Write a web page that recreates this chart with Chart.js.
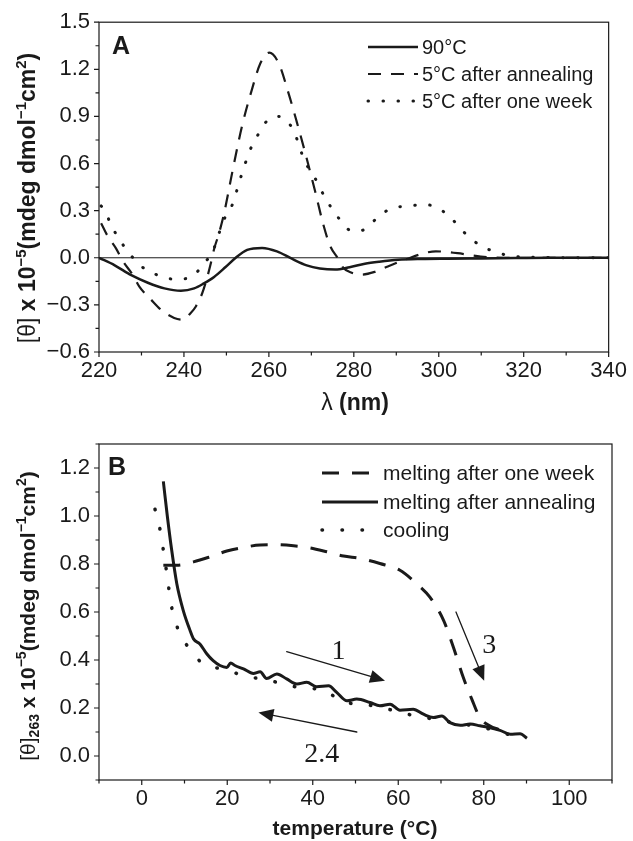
<!DOCTYPE html>
<html>
<head>
<meta charset="utf-8">
<script src="https://cdn.jsdelivr.net/npm/chart.js@4.4.0/dist/chart.umd.min.js"></script>
<style>
body { margin: 0; background: #fff; }
canvas { display: block; }
</style>
</head>
<body>
<canvas id="chartA" width="633" height="420"></canvas>
<canvas id="chartB" width="633" height="421"></canvas>
<script>
// ---- panel A : CD spectra ----
var nm90 = [220, 223.7, 227.6, 231.5, 235.4, 239.3, 242.4, 244.7, 247.1, 249.8, 252.2, 254.9, 258.4, 261.9, 265.4, 268.9, 272, 275.6, 279, 282.6, 286, 290.4, 296, 302, 310, 318, 326, 340];
var theta90 = [0, -0.048, -0.111, -0.159, -0.195, -0.21, -0.195, -0.163, -0.122, -0.059, 0, 0.05, 0.063, 0.041, -0.006, -0.048, -0.068, -0.075, -0.06, -0.038, -0.025, -0.013, -0.008, -0.006, -0.004, -0.002, 0, 0];

var nmAnneal = [220.5, 222, 224, 225.6, 228, 229.5, 232.3, 234.6, 237.7, 239.7, 241.6, 242.8, 244.3, 245.5, 246.3, 247.1, 248.2, 249.4, 251.4, 253.7, 256, 258, 260.1, 262.3, 264.6, 266.6, 268.5, 270.9, 272.8, 274.4, 276.3, 277.5, 279.5, 281.8, 284.9, 288, 292.7, 296, 299.3, 304.4, 309.9, 315.3, 340];
var thetaAnneal = [0.22, 0.14, 0.06, -0.02, -0.111, -0.184, -0.268, -0.331, -0.383, -0.394, -0.352, -0.31, -0.226, -0.122, -0.038, 0.056, 0.151, 0.276, 0.548, 0.841, 1.071, 1.239, 1.306, 1.239, 1.05, 0.862, 0.674, 0.422, 0.213, 0.077, -0.006, -0.063, -0.095, -0.107, -0.09, -0.055, -0.006, 0.025, 0.041, 0.029, 0.008, 0, 0];

var nmWeek = [220.5, 221.3, 222.7, 224.6, 226.8, 229.9, 233.3, 236.8, 238.5, 240.1, 241.8, 244.7, 246.9, 249.3, 251.4, 253.3, 255.7, 257.4, 259.6, 262.2, 263.5, 265.8, 268.5, 270.5, 272, 274, 276.3, 279.2, 281, 282.6, 285.7, 289.2, 292.7, 296.2, 299.3, 302.8, 306, 309.5, 313, 316.5, 320, 340];
var thetaWeek = [0.33, 0.308, 0.217, 0.126, 0.04, -0.053, -0.105, -0.134, -0.138, -0.134, -0.122, -0.038, 0.05, 0.236, 0.339, 0.506, 0.694, 0.782, 0.873, 0.9, 0.89, 0.81, 0.611, 0.527, 0.445, 0.349, 0.257, 0.174, 0.17, 0.182, 0.259, 0.318, 0.328, 0.339, 0.324, 0.255, 0.161, 0.083, 0.04, 0.014, 0.004, 0];

var xTicksA = [220, 240, 260, 280, 300, 320, 340];
var xMinorA = [230, 250, 270, 290, 310, 330];
var yTicksA = [-0.6, -0.3, 0, 0.3, 0.6, 0.9, 1.2, 1.5];
var yMinorA = [-0.45, -0.15, 0.15, 0.45, 0.75, 1.05, 1.35];
var legendA = ['90°C', '5°C after annealing', '5°C after one week'];

// ---- panel B : melting / cooling ----
var tempAnneal = [5.05, 6.0, 7.0, 8.2, 9.7, 11.3, 12.1, 13.6, 15.2, 16.7, 18.3, 19.9, 20.8, 21.8, 23.8, 26.1, 27.7, 29.2, 31.6, 33.9, 36.3, 38.6, 40.9, 43.7, 45.6, 48.0, 50.3, 53.4, 55.7, 58.1, 60.4, 63.5, 65.9, 68.2, 70.2, 72.1, 74.5, 76.8, 79.1, 81.5, 83.8, 86.2, 88.5, 90.1];
var meltAnneal = [1.144, 0.997, 0.858, 0.718, 0.607, 0.523, 0.488, 0.467, 0.426, 0.397, 0.377, 0.369, 0.388, 0.377, 0.363, 0.344, 0.351, 0.323, 0.342, 0.321, 0.30, 0.307, 0.289, 0.293, 0.265, 0.23, 0.237, 0.223, 0.209, 0.216, 0.191, 0.195, 0.174, 0.16, 0.167, 0.139, 0.128, 0.133, 0.126, 0.118, 0.107, 0.091, 0.093, 0.074];

var tempCool = [3.1, 4.3, 5.05, 5.7, 7.0, 8.6, 10.9, 14.8, 19.5, 24.2, 28.5, 33.1, 37.8, 42.5, 46.8, 51.1, 55.7, 60.4, 65.1, 69.8, 74.5, 79.1, 83.0, 87.7, 90];
var cooling = [1.028, 0.941, 0.858, 0.781, 0.62, 0.523, 0.453, 0.379, 0.362, 0.331, 0.321, 0.30, 0.283, 0.275, 0.227, 0.216, 0.205, 0.181, 0.164, 0.149, 0.135, 0.121, 0.105, 0.08, 0.074];

var tempWeek = [5.05, 8.2, 12.1, 16, 19.9, 23.8, 27.7, 31.6, 35.5, 39.4, 43.3, 47.2, 51.1, 55.7, 60.4, 64.3, 67.4, 70.6, 72.9, 75.2, 77.2, 79.1, 81.5, 83.5];
var meltWeek = [0.795, 0.795, 0.809, 0.83, 0.854, 0.869, 0.879, 0.88, 0.876, 0.867, 0.851, 0.833, 0.823, 0.802, 0.774, 0.718, 0.662, 0.565, 0.453, 0.328, 0.237, 0.16, 0.125, 0.11];

var xTicksB = [0, 20, 40, 60, 80, 100];
var xMinorB = [-10, 10, 30, 50, 70, 90, 110];
var yTicksB = [0, 0.2, 0.4, 0.6, 0.8, 1.0, 1.2];
var yMinorB = [-0.1, 0.1, 0.3, 0.5, 0.7, 0.9, 1.1, 1.3];
var legendB = ['melting after one week', 'melting after annealing', 'cooling'];
// arrows: [x0, y0, x1, y1] in data units, head at the second point
var arrowsB = [[33.9, 0.435, 56.9, 0.314], [73.5, 0.60, 80.1, 0.314], [50.3, 0.10, 27.3, 0.181]];
var arrowText = ['1', '3', '2.4'];
var arrowTextAt = [[46, 0.435], [81.3, 0.46], [42.1, 0.004]];

var SANS = "'Liberation Sans', Arial, Helvetica, sans-serif";
var SERIF = "'Liberation Serif', 'Times New Roman', serif";
var INK = '#1a1a1a';

function pts(xs, ys) {
  return xs.map(function (x, i) { return { x: x, y: ys[i] }; });
}
function fmt1(v) {
  return v < 0 ? '\u2212' + Math.abs(v).toFixed(1) : v.toFixed(1);
}

// rich text: parts = [[text, kind]] kind: 'b' bold, 'n' normal, 'sup', 'sub'
function richText(ctx, parts, cx, cy, size, rot) {
  function font(k) {
    var s = (k === 'sup' || k === 'sub') ? Math.round(size * 0.66) : size;
    var w = k === 'n' ? 'normal' : 'bold';
    return w + ' ' + s + 'px ' + SANS;
  }
  var total = 0;
  parts.forEach(function (p) { ctx.font = font(p[1]); total += ctx.measureText(p[0]).width; });
  ctx.save();
  ctx.translate(cx, cy);
  ctx.rotate(rot || 0);
  ctx.textBaseline = 'alphabetic';
  ctx.textAlign = 'left';
  ctx.fillStyle = INK;
  var x = -total / 2, base = size * 0.36;
  parts.forEach(function (p) {
    ctx.font = font(p[1]);
    var dy = p[1] === 'sup' ? -size * 0.42 : (p[1] === 'sub' ? size * 0.22 : 0);
    ctx.fillText(p[0], x, base + dy);
    x += ctx.measureText(p[0]).width;
  });
  ctx.restore();
}

var decor = {
  id: 'decor',
  beforeDatasetsDraw: function (chart, args, o) {
    var ctx = chart.ctx, a = chart.chartArea, xs = chart.scales.x, ys = chart.scales.y;
    ctx.save();
    ctx.strokeStyle = INK;
    ctx.lineWidth = 1.2;
    ctx.strokeRect(a.left, a.top, a.right - a.left, a.bottom - a.top);
    ctx.beginPath();
    o.xMajor.forEach(function (v) { var p = xs.getPixelForValue(v); ctx.moveTo(p, a.bottom); ctx.lineTo(p, a.bottom + 5); });
    o.xMinor.forEach(function (v) { var p = xs.getPixelForValue(v); ctx.moveTo(p, a.bottom); ctx.lineTo(p, a.bottom + 3.5); });
    o.yMajor.forEach(function (v) { var p = ys.getPixelForValue(v); ctx.moveTo(a.left - 5, p); ctx.lineTo(a.left, p); });
    o.yMinor.forEach(function (v) { var p = ys.getPixelForValue(v); ctx.moveTo(a.left - 3.5, p); ctx.lineTo(a.left, p); });
    ctx.stroke();
    if (o.zeroLine) {
      var z = ys.getPixelForValue(0);
      ctx.lineWidth = 1;
      ctx.beginPath(); ctx.moveTo(a.left, z); ctx.lineTo(a.right, z); ctx.stroke();
    }
    ctx.restore();
  },
  afterDatasetsDraw: function (chart, args, o) {
    var ctx = chart.ctx, a = chart.chartArea, xs = chart.scales.x, ys = chart.scales.y;
    ctx.save();
    // legend
    var L = o.legend;
    chart.data.datasets.forEach(function (ds, i) {
      var y = L.rows[i];
      ctx.strokeStyle = ds.borderColor;
      ctx.lineWidth = ds.borderWidth;
      ctx.lineCap = ds.borderCapStyle || 'butt';
      ctx.setLineDash(ds.borderDash || []);
      ctx.beginPath(); ctx.moveTo(L.x0, y); ctx.lineTo(L.x1, y); ctx.stroke();
      ctx.setLineDash([]);
      ctx.fillStyle = INK;
      ctx.font = L.size + 'px ' + SANS;
      ctx.textBaseline = 'middle';
      ctx.textAlign = 'left';
      ctx.fillText(ds.label, L.tx, y + 1);
    });
    // panel letter
    ctx.font = 'bold 25px ' + SANS;
    ctx.textAlign = 'center';
    ctx.textBaseline = 'middle';
    ctx.fillText(o.letter[0], o.letter[1], o.letter[2]);
    // axis titles
    richText(ctx, o.xTitle, o.xTitlePos[0], o.xTitlePos[1], o.titleSize, 0);
    richText(ctx, o.yTitle, o.yTitlePos[0], o.yTitlePos[1], o.titleSize, -Math.PI / 2);
    // arrows
    (o.arrows || []).forEach(function (ar, i) {
      var x0 = xs.getPixelForValue(ar[0]), y0 = ys.getPixelForValue(ar[1]);
      var x1 = xs.getPixelForValue(ar[2]), y1 = ys.getPixelForValue(ar[3]);
      var ang = Math.atan2(y1 - y0, x1 - x0), hl = 15, hw = 6.5;
      var bx = x1 - hl * Math.cos(ang), by = y1 - hl * Math.sin(ang);
      ctx.strokeStyle = INK; ctx.fillStyle = INK; ctx.lineWidth = 1.3;
      ctx.beginPath(); ctx.moveTo(x0, y0); ctx.lineTo(bx, by); ctx.stroke();
      ctx.beginPath();
      ctx.moveTo(x1, y1);
      ctx.lineTo(bx + hw * Math.sin(ang), by - hw * Math.cos(ang));
      ctx.lineTo(bx - hw * Math.sin(ang), by + hw * Math.cos(ang));
      ctx.closePath(); ctx.fill();
      var t = o.arrowTextAt[i];
      ctx.font = '28px ' + SERIF;
      ctx.textAlign = 'center'; ctx.textBaseline = 'middle';
      ctx.fillText(o.arrowText[i], xs.getPixelForValue(t[0]), ys.getPixelForValue(t[1]));
    });
    ctx.restore();
  }
};

function axisX(min, max, ticks, h) {
  return {
    type: 'linear', min: min, max: max,
    grid: { display: false, drawTicks: false }, border: { display: false },
    afterBuildTicks: function (s) { s.ticks = ticks.map(function (v) { return { value: v }; }); },
    afterFit: function (s) { s.height = h; },
    ticks: { font: { family: SANS, size: 22 }, color: INK, padding: 6, maxRotation: 0, autoSkip: false,
             callback: function (v) { return String(v); } }
  };
}
function axisY(min, max, ticks) {
  return {
    type: 'linear', min: min, max: max,
    grid: { display: false, drawTicks: false }, border: { display: false },
    afterBuildTicks: function (s) { s.ticks = ticks.map(function (v) { return { value: v }; }); },
    afterFit: function (s) { s.width = 99; },
    ticks: { font: { family: SANS, size: 22 }, color: INK, padding: 9, autoSkip: false, callback: fmt1 }
  };
}

var solid = { borderColor: INK, borderWidth: 2.5, pointRadius: 0, cubicInterpolationMode: 'monotone', fill: false };

new Chart(document.getElementById('chartA'), {
  type: 'line',
  data: {
    datasets: [
      Object.assign({ label: legendA[0], data: pts(nm90, theta90) }, solid),
      Object.assign({ label: legendA[1], data: pts(nmAnneal, thetaAnneal) }, solid, { borderWidth: 2.2, borderDash: [13, 10] }),
      Object.assign({ label: legendA[2], data: pts(nmWeek, thetaWeek) }, solid, { borderWidth: 3, borderDash: [0.5, 14.5], borderCapStyle: 'round' })
    ]
  },
  options: {
    responsive: false, animation: false, devicePixelRatio: 1,
    layout: { padding: { left: 0, right: 21, top: 18, bottom: 0 } },
    scales: { x: axisX(220, 340, xTicksA, 68), y: axisY(-0.6, 1.5, yTicksA) },
    plugins: {
      legend: { display: false }, tooltip: { enabled: false },
      decor: {
        xMajor: xTicksA, xMinor: xMinorA, yMajor: yTicksA, yMinor: yMinorA, zeroLine: true,
        legend: { x0: 368, x1: 418, tx: 422, rows: [47, 74, 101], size: 20 },
        letter: ['A', 121, 47],
        titleSize: 23,
        xTitle: [['\u03bb', 'n'], [' (nm)', 'b']], xTitlePos: [355, 402],
        yTitle: [['[\u03b8]', 'n'], [' x 10', 'b'], ['\u22125', 'sup'], ['(mdeg dmol', 'b'], ['\u22121', 'sup'], ['cm', 'b'], ['2', 'sup'], [')', 'b']],
        yTitlePos: [27, 198]
      }
    }
  },
  plugins: [decor]
});

new Chart(document.getElementById('chartB'), {
  type: 'line',
  data: {
    datasets: [
      Object.assign({ label: legendB[0], data: pts(tempWeek, meltWeek) }, solid, { borderWidth: 3, borderDash: [17, 13] }),
      Object.assign({ label: legendB[1], data: pts(tempAnneal, meltAnneal) }, solid, { borderWidth: 3 }),
      Object.assign({ label: legendB[2], data: pts(tempCool, cooling) }, solid, { borderWidth: 3.5, borderDash: [0.5, 19.5], borderCapStyle: 'round' })
    ]
  },
  options: {
    responsive: false, animation: false, devicePixelRatio: 1,
    layout: { padding: { left: 0, right: 21, top: 24, bottom: 0 } },
    scales: { x: axisX(-10, 110, xTicksB, 61), y: axisY(-0.1, 1.3, yTicksB) },
    plugins: {
      legend: { display: false }, tooltip: { enabled: false },
      decor: {
        xMajor: xTicksB, xMinor: xMinorB, yMajor: yTicksB, yMinor: yMinorB, zeroLine: false,
        legend: { x0: 322, x1: 378, tx: 383, rows: [53, 82, 110], size: 21 },
        letter: ['B', 117, 48],
        titleSize: 21,
        xTitle: [['temperature (\u00b0C)', 'b']], xTitlePos: [355, 407],
        yTitle: [['[\u03b8]', 'n'], ['263', 'sub'], [' x 10', 'b'], ['\u22125', 'sup'], ['(mdeg dmol', 'b'], ['\u22121', 'sup'], ['cm', 'b'], ['2', 'sup'], [')', 'b']],
        yTitlePos: [27, 196],
        arrows: arrowsB, arrowText: arrowText, arrowTextAt: arrowTextAt
      }
    }
  },
  plugins: [decor]
});
</script>
</body>
</html>
